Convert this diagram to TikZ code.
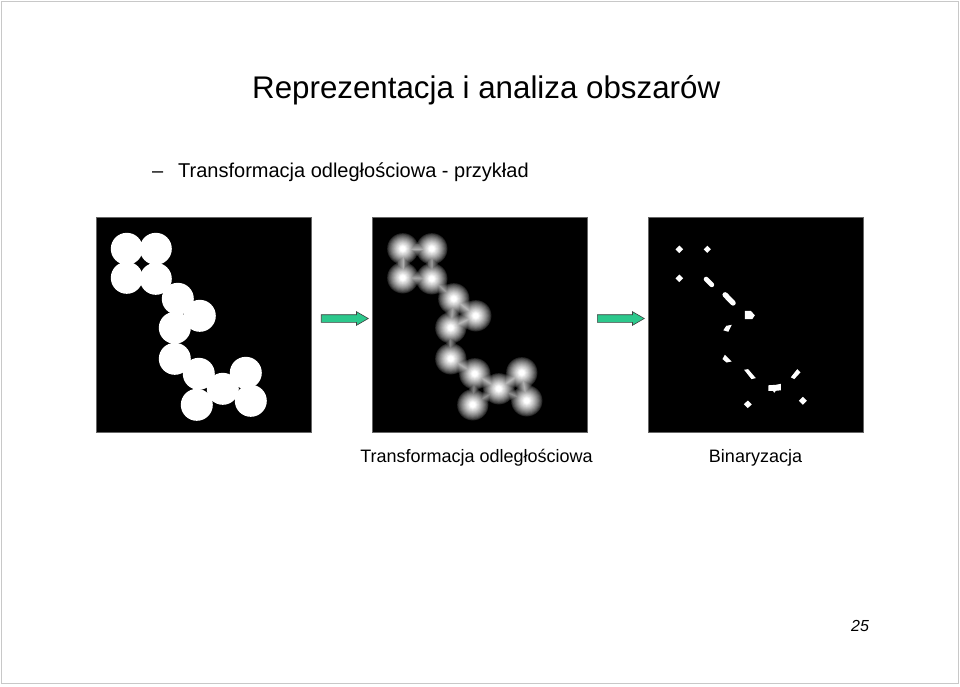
\documentclass[tikz,border=0pt]{standalone}
\usepackage{fontspec}
\setmainfont{Liberation Sans}
\usetikzlibrary{calc,shapes.arrows}
\definecolor{arrowgreen}{RGB}{44,200,140}
\definecolor{framegray}{RGB}{200,200,200}
\tikzset{
  imgbox/.style={rectangle, fill=black, draw=black!60, line width=0.4pt, minimum width=215, minimum height=215, inner sep=0pt},
  blockarrow/.style={single arrow, fill=arrowgreen, draw=black!75, line width=0.6pt, minimum height=47, inner xsep=0pt, inner ysep=3.5, single arrow head extend=3, single arrow tip angle=60, single arrow head indent=0pt},
  caption/.style={anchor=base, font=\fontsize{18}{21}\selectfont, inner sep=0pt},
  blob/.style={fill=white},
}
\begin{document}
\begin{tikzpicture}[x=1pt,y=-1pt]
\useasboundingbox (0,0) rectangle (960,686);
\draw[framegray, line width=1pt] (1.5,1.5) rectangle (958.5,683.5);
% texts
\node[anchor=base west, inner sep=0pt, font=\fontsize{31.3}{36}\selectfont] (title) at (252,98) {Reprezentacja i analiza obszarów};
\node[anchor=base west, inner sep=0pt, font=\fontsize{20}{24}\selectfont] (bullet) at (152,177) {–};
\node[anchor=base west, inner sep=0pt, font=\fontsize{20}{24}\selectfont] (subtitle) at (178,177) {Transformacja odległościowa - przykład};
% images
\node[imgbox] (img1) at (203.5,324.5) {};
\node[imgbox] (img2) at (479.5,324.5) {};
\node[imgbox] (img3) at (755.5,324.5) {};
% image 1: binary shape (union of discs)
\begin{scope}[shift={(img1.north west)}]
  \clip (0,0) rectangle (215,215);
  \foreach \p in {(31,32),(60,32),(31,61),(60,62),(82,82),(104,99),(79,111),(79,142),(103,157),(127,172),(150,156),(101,188),(155,184)}
    \fill[white] \p circle (16);
\end{scope}
% image 2: distance transform, drawn as nested level sets
\begin{scope}[shift={(img2.north west)}]
  \clip (0,0) rectangle (215,215);
  \foreach \k in {1,...,18} {
    \pgfmathsetmacro\dtT{16.5*\k/19}
    \pgfmathsetmacro\dtR{16.5-\dtT}
    \pgfmathsetmacro\dtV{100*min(1,1.15*(\dtT/16.5)^0.7)}
    \colorlet{lev}{white!\dtV!black}
    \foreach \ax/\ay/\bx/\by in {31/32/60/32, 31/32/31/61, 60/32/60/62, 31/61/60/62, 60/62/82/82, 82/82/104/99, 82/82/79/111, 104/99/79/111, 79/111/79/142, 79/142/103/157, 103/157/127/172, 103/157/101/188, 127/172/101/188, 127/172/150/156, 127/172/155/184, 150/156/155/184} {
      \pgfmathsetmacro\dtH{sqrt(max(0,272.25-((\bx-\ax)^2+(\by-\ay)^2)/4))}
      \pgfmathsetmacro\dtW{2*(\dtH-\dtT)}
      \ifdim\dtW pt>0pt
        \draw[lev, line width=\dtW pt] (\ax,\ay) -- (\bx,\by);
      \fi
    }
    \foreach \p in {(31,32),(60,32),(31,61),(60,62),(82,82),(104,99),(79,111),(79,142),(103,157),(127,172),(150,156),(101,188),(155,184)}
      \fill[lev] \p circle (\dtR);
  }
\end{scope}
% image 3: binarisation
\begin{scope}[shift={(img3.north west)}]
  \fill[blob] (31.5,32.5) +(-3.8,0) -- +(0,-3.8) -- +(3.8,0) -- +(0,3.8) -- cycle;
  \fill[blob] (59.5,32.5) +(-3.6,0) -- +(0,-3.6) -- +(3.6,0) -- +(0,3.6) -- cycle;
  \fill[blob] (31.5,61.5) +(-3.8,0) -- +(0,-3.8) -- +(3.8,0) -- +(0,3.8) -- cycle;
  \fill[blob] (100,187.5) +(-4,0) -- +(0,-3.8) -- +(4,0) -- +(0,3.8) -- cycle;
  \fill[blob] (155,184) +(-4,0) -- +(0,-4) -- +(4,0) -- +(0,4) -- cycle;
  \draw[white, line width=4.8pt, line cap=round] (58.3,62.3) -- (64,68);
  \draw[white, line width=5.3pt, line cap=round] (77.3,78) -- (85.3,86.2);
  \fill[blob] (97,94) -- (103,94) -- (107,98.5) -- (104.5,102.3) -- (97,102.3) -- cycle;
  \fill[blob] (78.5,109) -- (84,108) -- (80.5,115) -- (75.5,113.5) -- cycle;
  \fill[blob] (77,138) -- (83.7,144.7) -- (78.7,145.7) -- (74.7,142.3) -- cycle;
  \fill[blob] (96.3,153) -- (100.3,152.3) -- (108,161.3) -- (103.7,162.3) -- cycle;
  \fill[blob] (120.5,168.5) -- (128,168) -- (133,167) -- (133,173.5) -- (128,174) -- (126.5,176) -- (125,174) -- (120.5,174) -- cycle;
  \fill[blob] (143,160.5) -- (149.5,152.3) -- (152.7,155.5) -- (146.5,162.3) -- cycle;
\end{scope}
% arrows
\node[blockarrow] (arr1) at ($(img1.east)!0.5!(img2.west)+(0,-6)$) {};
\node[blockarrow] (arr2) at ($(img2.east)!0.5!(img3.west)+(0,-6)$) {};
% captions
\node[caption] (cap2) at ($(img2.center |- 0,462)+(-3,0)$) {Transformacja odległościowa};
\node[caption] (cap3) at (img3.center |- 0,462) {Binaryzacja};
\node[anchor=base, inner sep=0pt, font=\fontsize{16}{19}\selectfont\itshape] (pagenum) at (860,631) {25};
\end{tikzpicture}
\end{document}
